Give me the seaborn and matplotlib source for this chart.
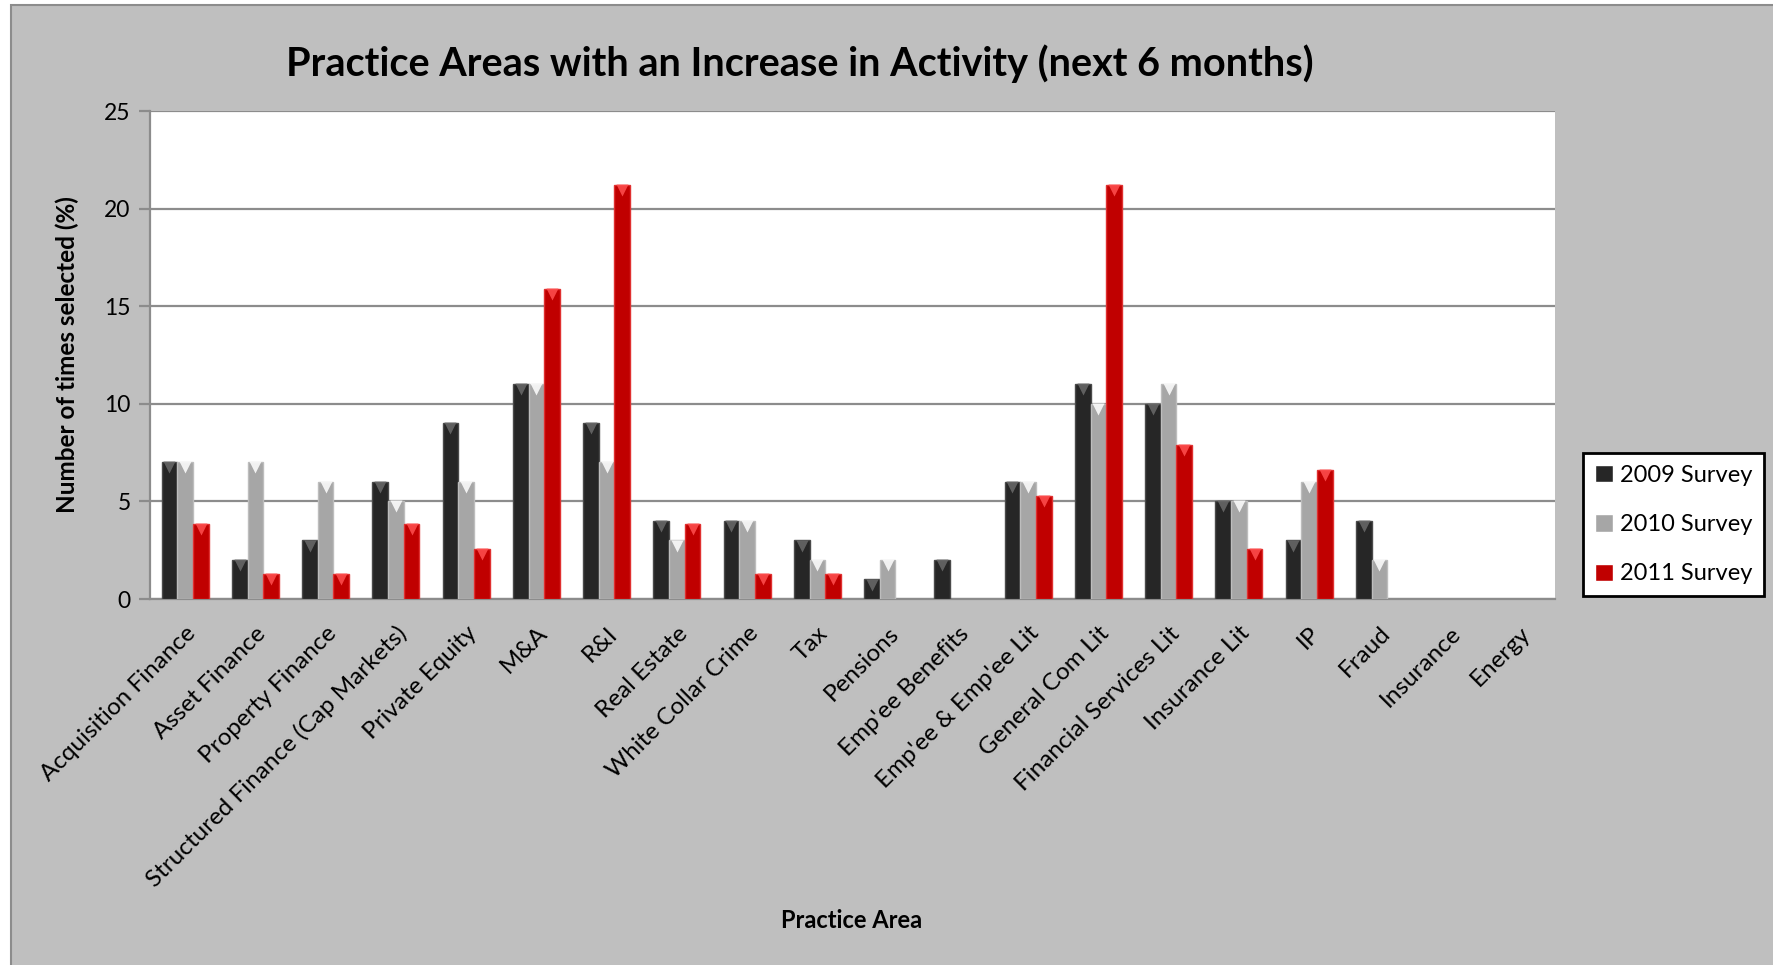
import numpy as np
import pandas as pd
import matplotlib
matplotlib.use("Agg")
import matplotlib.pyplot as plt
from matplotlib.patches import Rectangle
import seaborn as sns

# Practice areas and share of respondents (%) per survey year
areas = [
    "Acquisition Finance", "Asset Finance", "Property Finance",
    "Structured Finance (Cap Markets)", "Private Equity", "M&A", "R&I",
    "Real Estate", "White Collar Crime", "Tax", "Pensions", "Emp'ee Benefits",
    "Emp'ee & Emp'ee Lit", "General Com Lit", "Financial Services Lit",
    "Insurance Lit", "IP", "Fraud", "Insurance", "Energy",
]
survey_2009 = [7, 2, 3, 6, 9, 11, 9, 4, 4, 3, 1, 2, 6, 11, 10, 5, 3, 4, 0, 0]
survey_2010 = [7, 7, 6, 5, 6, 11, 7, 3, 4, 2, 2, 0, 6, 10, 11, 5, 6, 2, 0, 0]
survey_2011 = [3.85, 1.28, 1.28, 3.85, 2.56, 15.9, 21.2, 3.85, 1.28, 1.28,
               0, 0, 5.3, 21.2, 7.9, 2.56, 6.6, 0, 0, 0]
surveys = ["2009 Survey", "2010 Survey", "2011 Survey"]
y_ticks = [0, 5, 10, 15, 20, 25]

bar_colors = ["#262626", "#A6A6A6", "#C00000"]
edge_colors = ["#4A4A4A", "#BDBDBD", "#E03030"]
cap_colors = ["#6A6A6A", "#FFFFFF", "#FF5050"]

df = pd.DataFrame({
    "area": areas * 3,
    "value": survey_2009 + survey_2010 + survey_2011,
    "survey": sum([[s] * len(areas) for s in surveys], []),
})

sns.set_theme(style="white")
plt.rcParams["font.family"] = ["Lato", "DejaVu Sans"]
for key in ["text.color", "axes.labelcolor", "xtick.color", "ytick.color"]:
    plt.rcParams[key] = "black"

W, H = 1773, 965
fig = plt.figure(figsize=(W / 100, H / 100), dpi=100, facecolor="white")
fig.patches.append(Rectangle((11 / W, -0.01), 1.02, 1.01 - 5 / H,
                             transform=fig.transFigure, facecolor="#BFBFBF",
                             edgecolor="#8C8C8C", lw=1.5, zorder=-10))

ax = fig.add_axes([150 / W, 1 - 599 / H, 1405 / W, 488 / H])
ax.set_facecolor("white")

sns.barplot(data=df, x="area", y="value", hue="survey", order=areas,
            hue_order=surveys, palette=dict(zip(surveys, bar_colors)),
            width=0.67, saturation=1, errorbar=None, ax=ax, zorder=3)

# bevelled edges and triangular caps on each bar
for ci, container in enumerate(ax.containers):
    for patch in container:
        h = patch.get_height()
        if h > 0:
            patch.set_edgecolor(edge_colors[ci])
            patch.set_linewidth(1.0)
            cx = patch.get_x() + patch.get_width() / 2
            ax.plot(cx, h - 0.26, marker="v", ms=8, color=cap_colors[ci],
                    mec="none", zorder=4, alpha=0.85)
        else:
            patch.set_linewidth(0)
            patch.set_visible(False)

ax.set_xlim(-0.5, len(areas) - 0.5)
ax.set_ylim(0, 25)
ax.set_yticks(y_ticks)
ax.set_yticklabels([str(t) for t in y_ticks], fontsize=16.5)
ax.grid(axis="y", color="#8C8C8C", lw=1.6, zorder=0)
ax.set_axisbelow(True)

for s in ["top", "right"]:
    ax.spines[s].set_visible(False)
for s in ["left", "bottom"]:
    ax.spines[s].set_color("#8C8C8C")
    ax.spines[s].set_linewidth(1.6)

ax.set_xticks(range(len(areas)))
ax.set_xticklabels(areas, rotation=45, ha="right", rotation_mode="anchor",
                   fontsize=17.5)
ax.set_xticks(np.arange(-0.5, len(areas)), minor=True)
ax.tick_params(axis="x", which="major", length=0, pad=17)
ax.tick_params(axis="x", which="minor", length=8, width=1.6, color="#8C8C8C",
               direction="out")
ax.tick_params(axis="y", length=8, width=1.6, color="#8C8C8C",
               direction="out", pad=6, left=True)

ax.set_xlabel("")
ax.set_ylabel("Number of times selected (%)", fontsize=17.5,
              fontweight="bold", labelpad=18)
fig.text(852 / W, 1 - 921 / H, "Practice Area", ha="center", va="center",
         fontsize=17, fontweight="bold")
fig.text(800 / W, 1 - 64 / H,
         "Practice Areas with an Increase in Activity (next 6 months)",
         ha="center", va="center", fontsize=28.5, fontweight="bold")

handles, labels = ax.get_legend_handles_labels()
ax.get_legend().remove()
leg = fig.legend(handles, labels, loc="upper left",
                 bbox_to_anchor=(1583 / W, 1 - 453 / H), borderaxespad=0,
                 fontsize=17, frameon=True, fancybox=False, edgecolor="black",
                 framealpha=1, labelspacing=1.2, handlelength=0.75,
                 handleheight=0.75, handletextpad=0.3, borderpad=0.5)
leg.get_frame().set_linewidth(2)

fig.savefig("out.png", dpi=100, facecolor="white")
